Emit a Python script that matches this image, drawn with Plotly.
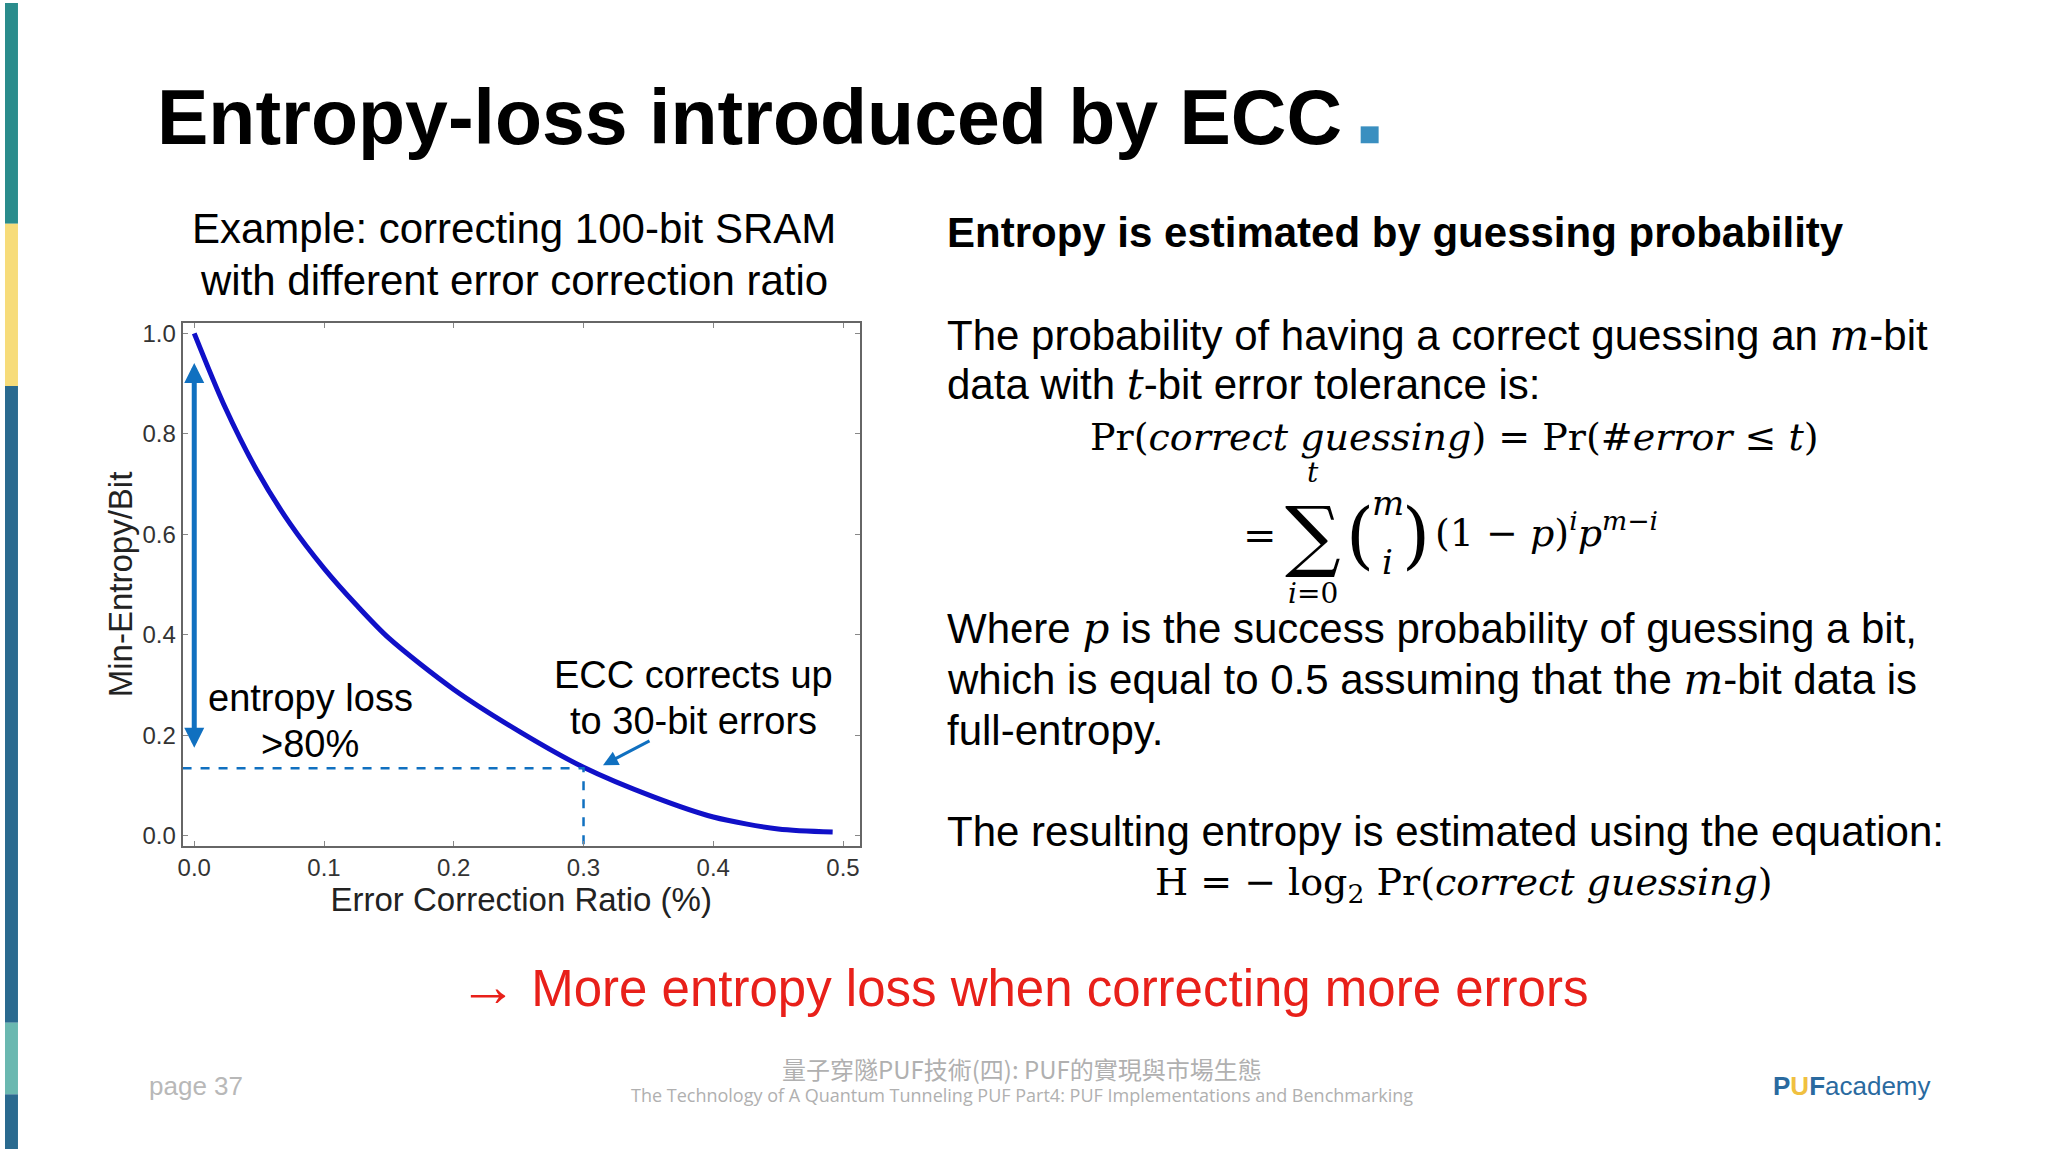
import plotly.graph_objects as go

ratio = [0.0, 0.0227, 0.0483, 0.0738, 0.1, 0.125, 0.15, 0.2, 0.252, 0.3, 0.354, 0.4, 0.45, 0.492]
entropy = [1.0, 0.859, 0.727, 0.621, 0.532, 0.459, 0.393, 0.291, 0.205, 0.136, 0.077, 0.037, 0.013, 0.007]
x_ticks = [0.0, 0.1, 0.2, 0.3, 0.4, 0.5]
y_ticks = [0.0, 0.2, 0.4, 0.6, 0.8, 1.0]
ecc_ratio = 0.3
ecc_entropy = 0.134

W, H = 2048, 1152
SANS = "Liberation Sans, Arial, sans-serif"
SERIF = "DejaVu Serif, Liberation Serif, serif"

fig = go.Figure()
fig.add_trace(go.Scatter(x=ratio, y=entropy, mode="lines", line=dict(color="#1010c8", width=5, shape="spline", smoothing=0.8),
                         showlegend=False, hoverinfo="skip"))
fig.add_trace(go.Scatter(x=[-0.009, ecc_ratio, ecc_ratio], y=[ecc_entropy, ecc_entropy, -0.02], mode="lines",
                         line=dict(color="#1070c0", width=2.5, dash="dash"), showlegend=False, hoverinfo="skip"))

ann = []
def txt(x, y, s, size, color="black", xanchor="left", family=SANS, yanchor="middle"):
    ann.append(dict(x=x / W, y=1 - y / H, xref="paper", yref="paper",
                    text=s, showarrow=False, xanchor=xanchor, yanchor=yanchor,
                    font=dict(size=size, color=color, family=family)))

txt(150, 115, "<b>Entropy-loss introduced by ECC</b>", 77)
txt(510, 227, "Example: correcting 100-bit SRAM", 42, xanchor="center")
txt(510, 279, "with different error correction ratio", 42, xanchor="center")
txt(306, 699, "entropy loss", 38, xanchor="center")
txt(306, 745, "&gt;80%", 38, xanchor="center")
txt(690, 676, "ECC corrects up", 38, xanchor="center")
txt(690, 722, "to 30-bit errors", 38, xanchor="center")

X0 = 942
txt(X0, 231, "<b>Entropy is estimated by guessing probability</b>", 42)
txt(X0, 334, "The probability of having a correct guessing an <span style='font-family:DejaVu Serif'><i>m</i></span>-bit", 42)
txt(X0, 384, "data with <span style='font-family:DejaVu Serif'><i>t</i></span>-bit error tolerance is:", 42)
txt(1086, 436, "Pr(<i>correct guessing</i>) = Pr(#<i>error</i> ≤ <i>t</i>)", 38, family=SERIF)
txt(1258, 535, "=", 40, family=SERIF, xanchor="center")
txt(1311, 535, "∑", 78, family=SERIF, xanchor="center")
txt(1311, 472, "<i>t</i>", 28, family=SERIF, xanchor="center")
txt(1311, 594, "<i>i</i>=0", 28, family=SERIF, xanchor="center")
txt(1358, 535, "(", 72, family=SERIF, xanchor="center")
txt(1386, 503, "<i>m</i>", 34, family=SERIF, xanchor="center")
txt(1386, 562, "<i>i</i>", 34, family=SERIF, xanchor="center")
txt(1414, 535, ")", 72, family=SERIF, xanchor="center")
txt(1431, 530, "(1 − <i>p</i>)<sup><i>i</i></sup><i>p</i><sup><i>m</i>−<i>i</i></sup>", 38, family=SERIF)
txt(X0, 629, "Where <span style='font-family:DejaVu Serif'><i>p</i></span> is the success probability of guessing a bit,", 42)
txt(X0, 680, "which is equal to 0.5 assuming that the <span style='font-family:DejaVu Serif'><i>m</i></span>-bit data is", 42)
txt(X0, 731, "full-entropy.", 42)
txt(X0, 833, "The resulting entropy is estimated using the equation:", 42)
txt(1151, 886, "H = − log<sub>2</sub> Pr(<i>correct guessing</i>)", 38, family=SERIF)

txt(1021, 988, "<span style='font-size:58px'>→</span> More entropy loss when correcting more errors", 51, color="#e8201a", xanchor="center")
txt(142, 1089, "page 37", 26, color="#b8b8b8")
txt(1019, 1071, "量子穿隧PUF技術(四): PUF的實現與市場生態", 24, color="#b0b0b0", xanchor="center",
    family="Noto Sans CJK TC, sans-serif")
txt(1019, 1098, "The Technology of A Quantum Tunneling PUF Part4: PUF Implementations and Benchmarking", 18,
    color="#b0b0b0", xanchor="center", family="Open Sans, sans-serif")
txt(1770, 1089, "<b><span style='color:#2a6a9f'>P</span><span style='color:#f0c040'>U</span><span style='color:#2a6a9f'>F</span></b><span style='color:#2a6a9f'>academy</span>",
    26, xanchor="left")

ann.append(dict(x=0.0, y=0.941, ax=0.0, ay=0.172, xref="x", yref="y", axref="x", ayref="y", text="",
                showarrow=True, arrowhead=2, startarrowhead=2, arrowside="end+start", arrowwidth=5,
                arrowsize=0.8, startarrowsize=0.8, arrowcolor="#1070c0"))
ann.append(dict(x=0.315, y=0.14, ax=0.352, ay=0.19, xref="x", yref="y", axref="x", ayref="y", text="",
                showarrow=True, arrowhead=2, arrowwidth=3, arrowsize=1, arrowcolor="#1070c0"))

shapes = [
    dict(type="rect", xref="paper", yref="paper", x0=0, x1=13 / W, y0=1 - 222 / H, y1=1, fillcolor="#2a8c8c", line_width=0),
    dict(type="rect", xref="paper", yref="paper", x0=0, x1=13 / W, y0=1 - 385 / H, y1=1 - 222 / H, fillcolor="#f7dc7a", line_width=0),
    dict(type="rect", xref="paper", yref="paper", x0=0, x1=13 / W, y0=1 - 1025 / H, y1=1 - 385 / H, fillcolor="#2a6a8f", line_width=0),
    dict(type="rect", xref="paper", yref="paper", x0=0, x1=13 / W, y0=1 - 1097 / H, y1=1 - 1025 / H, fillcolor="#6ab8b0", line_width=0),
    dict(type="rect", xref="paper", yref="paper", x0=0, x1=13 / W, y0=0, y1=1 - 1097 / H, fillcolor="#2a6a8f", line_width=0),
    dict(type="rect", xref="paper", yref="paper", x0=1359 / W, x1=1377 / W, y0=1 - 141 / H, y1=1 - 124 / H, fillcolor="#3a8fc0", line_width=0),
]

axis_common = dict(showgrid=False, zeroline=False, showline=True, linecolor="#666", linewidth=2, mirror="ticks",
                   ticks="inside", ticklen=5, tickcolor="#888", tickfont=dict(size=24, color="#333", family=SANS))
fig.update_layout(
    width=W, height=H, paper_bgcolor="white", plot_bgcolor="white", margin=dict(l=0, r=0, t=0, b=0),
    xaxis=dict(domain=[178 / W, 857 / W], range=[-0.009, 0.513], tickvals=x_ticks, ticktext=[f"{v:.1f}" for v in x_ticks],
               title=dict(text="Error Correction Ratio (%)", font=dict(size=33, color="#222", family=SANS), standoff=4),
               **axis_common),
    yaxis=dict(domain=[1 - 847 / H, 1 - 322 / H], range=[-0.02, 1.02], tickvals=y_ticks, ticktext=[f"{v:.1f}" for v in y_ticks],
               title=dict(text="Min-Entropy/Bit", font=dict(size=33, color="#222", family=SANS), standoff=0),
               **axis_common),
    annotations=ann, shapes=shapes,
)
fig.write_html("out.html", config={"displayModeBar": False},
               post_script="document.body.style.margin='0';document.body.style.padding='0';")
